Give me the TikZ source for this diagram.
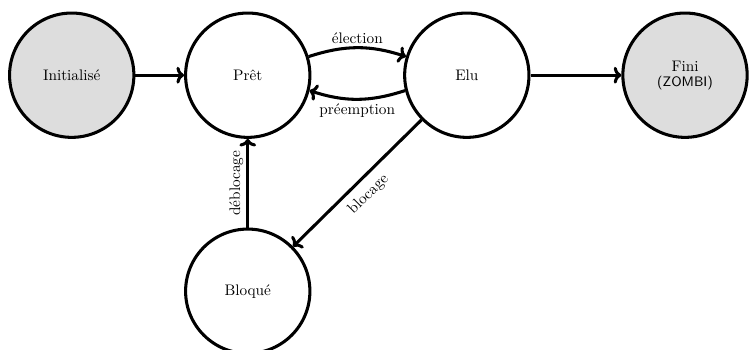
\documentclass[tikz,border=0pt]{standalone}
\usepackage{tikz}
\usetikzlibrary{arrows.meta, positioning}
\definecolor{stategray}{RGB}{221, 221, 221}

\begin{document}
\begin{tikzpicture}[
    state/.style={draw, circle, line width=2pt, minimum size=2.86cm, inner sep=0pt, align=center},
    endstate/.style={state, fill=stategray},
    trans/.style={line width=2pt, -{To[length=5pt, width=11pt]}},
    lbl/.style={inner sep=2pt}
  ]
  \useasboundingbox (-5.70, 1.73) rectangle (11.67, -6.30);

  % States
  \node[endstate] (init) at (-4.05, 0) {Initialisé};
  \node[state] (pret) at (0, 0) {Prêt};
  \node[state] (elu) at (5.04, 0) {Elu};
  \node[endstate] (fini) at (10.06, 0) {Fini\\[-2pt]{\sffamily\small (ZOMBI)}};
  \node[state] (bloque) at (0, -4.97) {Bloqué};

  % Transitions
  \draw[trans] (init) -- (pret);
  \draw[trans] (pret.17) to[bend left=18] node[lbl, above] {élection} (elu.163);
  \draw[trans] (elu.194) to[bend left=18] node[lbl, below] {préemption} (pret.346);
  \draw[trans] (elu) -- node[lbl, sloped, below, inner sep=5pt] {blocage} (bloque);
  \draw[trans] (bloque) -- node[lbl, sloped, above] {déblocage} (pret);
  \draw[trans] (elu) -- (fini);
\end{tikzpicture}
\end{document}
